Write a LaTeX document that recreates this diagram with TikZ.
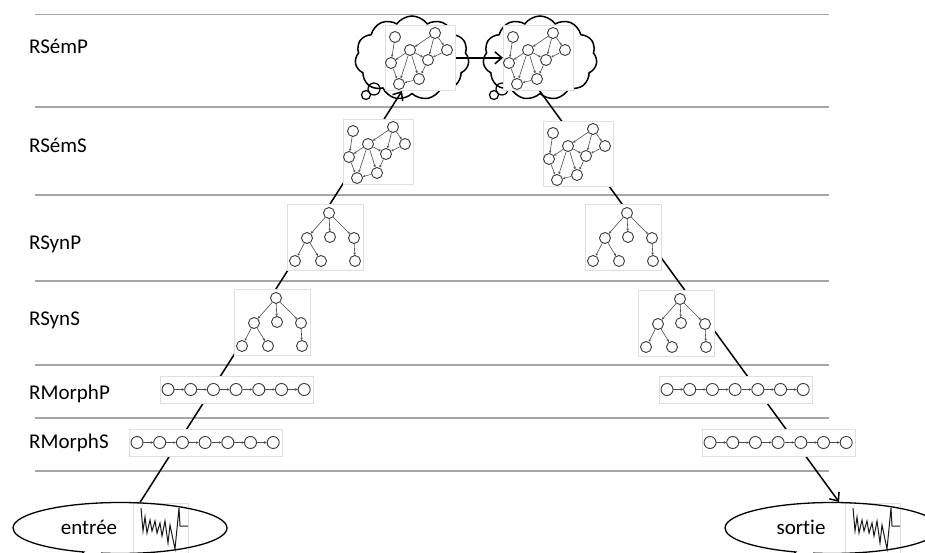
\documentclass[tikz,border=0pt]{standalone}
\usepackage{fontspec}
\setmainfont{Carlito}[Ligatures=NoCommon]
\usetikzlibrary{shapes.symbols,shapes.callouts,arrows.meta}

\begin{document}
\begin{tikzpicture}[x=1pt, y=-1pt, font=\fontsize{21}{25}\selectfont,
  bandline/.style={draw=gray!70, line width=1.6pt},
  lvl/.style={anchor=west, inner sep=0pt},
  conn/.style={draw=black, line width=1.5pt, -{Straight Barb[length=7pt,width=12pt]}},
  thumb/.style={rectangle, draw=gray!25, fill=white, line width=0.6pt, anchor=north west, inner sep=0pt},
  vertex/.style={circle, draw=gray!45!black, fill=white, line width=0.9pt, inner sep=0pt, minimum size=11pt},
  link/.style={draw=gray!60!black, line width=0.6pt, -{Stealth[length=2.5pt,width=2.5pt]}},
  thought/.style={cloud, cloud puffs=11, cloud puff arc=110, aspect=1.35, draw=black, line width=1.5pt, fill=white, minimum width=114pt, minimum height=84pt},
  puff/.style={circle, draw=black, line width=1.2pt, inner sep=0pt},
  bubble/.style={ellipse callout, draw=black, line width=1.3pt, minimum width=214pt, minimum height=51pt, callout pointer arc=10},
  semgraph/.pic={
    \node[thumb, minimum width=70pt, minimum height=65pt] (-box) at (0,0) {};
    \foreach \n/\px/\py in {a/10/12, b/50/8, c/25/25, d/62/25, e/6/38, f/43/35, g/34/54, h/14/59}
      \node[vertex] (-\n) at (\px,\py) {};
    \foreach \s/\t in {a/e, c/e, b/c, b/f, b/d, d/f, c/f, c/h, c/g, e/h, f/g, g/h}
      \draw[link] (-\s) -- (-\t);
  },
  syntree/.pic={
    \node[thumb, minimum width=76pt, minimum height=66pt] (-box) at (0,0) {};
    \foreach \n/\px/\py in {r/42/9, p/20/34, q/43/33, s/67/34, u/8/57, v/34/57, w/68/57}
      \node[vertex] (-\n) at (\px,\py) {};
    \foreach \s/\t in {r/p, r/q, r/s, p/u, p/v, s/w}
      \draw[link] (-\s) -- (-\t);
  },
  morphchain/.pic={
    \node[thumb, minimum width=153pt, minimum height=27pt] (-box) at (0,0) {};
    \foreach \i in {0,...,6}
      \node[vertex, minimum size=12pt] (-\i) at (8+22.7*\i,13.5) {};
    \foreach \i [evaluate=\i as \j using int(\i+1)] in {0,...,5}
      \draw[link] (-\i) -- (-\j);
  },
  signal/.pic={
    \node[thumb, minimum width=55pt, minimum height=52pt] (-box) at (0,0) {};
    \draw[gray!20!black, line width=1pt] (8,5) -- (10,28) -- (12,14) -- (14,30) -- (17,17) -- (19,28)
      -- (22,18) -- (24,30) -- (27,20) -- (29,33) -- (32,18) -- (35,40) -- (37,22) -- (42,46)
      -- (46,5) -- (47,23) -- (55,23);
  }]

\useasboundingbox (0,0) rectangle (925,553);
\clip (0,0) rectangle (925,553);

% bandes des niveaux
\foreach \ly in {14.5,107,195,281,365,418,471}
  \draw[bandline] (35,\ly) -- (829,\ly);

\node[lvl] (lsemP) at (29,46) {RSémP};
\node[lvl] (lsemS) at (29,145) {RSémS};
\node[lvl] (lsynP) at (29,244) {RSynP};
\node[lvl] (lsynS) at (29,320) {RSynS};
\node[lvl] (lmorphP) at (29,394) {RMorphP};
\node[lvl] (lmorphS) at (29,443) {RMorphS};

% nuages
\node[thought] (cloudL) at (412,58) {};
\node[thought] (cloudR) at (540,58) {};
\node[puff, minimum size=9pt] (tailLa) at (366,95) {};
\node[puff, minimum size=12pt] (tailLb) at (374,89) {};
\node[puff, minimum size=9pt] (tailRa) at (494,95) {};
\node[puff, minimum size=12pt] (tailRb) at (502,89) {};

% signaux
\pic (sigIn) at (133,503) {signal};
\pic (sigOut) at (845,503) {signal};
\node[bubble, callout absolute pointer={(40,600)}] (entree) at (120,528) {};
\node[bubble, callout absolute pointer={(752,600)}] (sortie) at (832,528) {};
\node (entreeTxt) at (89,527) {entrée};
\node (sortieTxt) at (801,527) {sortie};

% analyse / synthese
\coordinate (semPin) at (402,91);
\coordinate (semPout) at (539,90);
\draw[conn] (entree.52) -- (semPin);
\draw[conn] (semPout) -- (sortie.75);

\pic (semPL) at (385,25) {semgraph};
\pic (semPR) at (503,25) {semgraph};
\pic (semSL) at (343,119) {semgraph};
\pic (semSR) at (543,121) {semgraph};
\pic (synPL) at (287,204) {syntree};
\pic (synPR) at (585,204) {syntree};
\pic (synSL) at (234,289) {syntree};
\pic (synSR) at (638,290) {syntree};
\pic (morphPL) at (160,376) {morphchain};
\pic (morphPR) at (659,376) {morphchain};
\pic (morphSL) at (129,429) {morphchain};
\pic (morphSR) at (702,429) {morphchain};

\draw[conn] (semPL-box.east) -- (semPR-box.west);
\end{tikzpicture}
\end{document}
